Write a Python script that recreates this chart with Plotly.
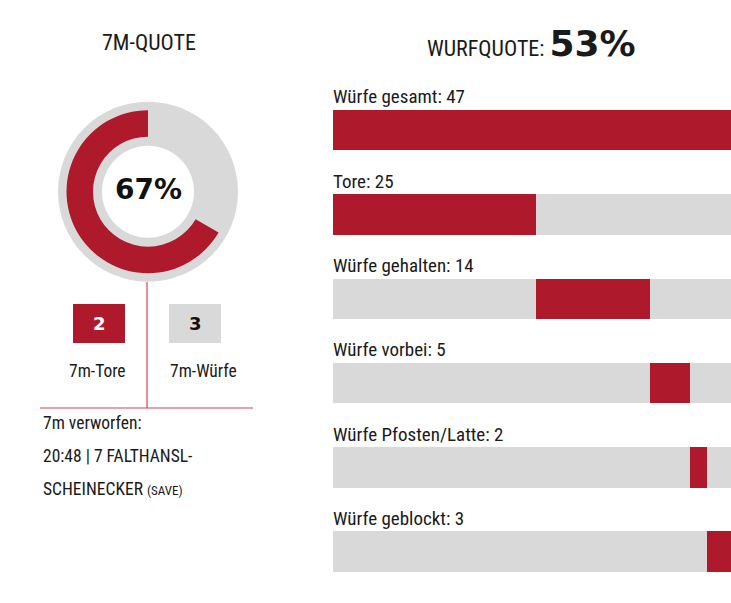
import plotly.graph_objects as go

# ---- data ----
seven_m_goals = 2
seven_m_shots = 3
seven_m_labels = ["7m-Tore", "7m-Würfe"]
shot_rate_text = "53%"
bar_labels = ["Würfe gesamt", "Tore", "Würfe gehalten", "Würfe vorbei", "Würfe Pfosten/Latte", "Würfe geblockt"]
bar_values = [47, 25, 14, 5, 2, 3]
missed_lines = ["7m verworfen:", "20:48 | 7 FALTHANSL-", "SCHEINECKER"]
missed_note = "(SAVE)"

RED = "#ae1a2c"
GREY = "#d9d9d9"
LINE = "#e0404e"
W, H = 731, 603
NARROW = "Liberation Sans Narrow, Roboto Condensed, Arial Narrow, sans-serif"
WIDE = "DejaVu Sans, Verdana, sans-serif"


def px(x):
    return x / W


def py(y):
    return 1 - y / H


fig = go.Figure()

# ---- donut ----
cx, cy = 148, 191.7
r_out, r_in = 90, 46
fig.add_trace(go.Pie(values=[1], marker=dict(colors=[GREY]), hole=r_in / r_out,
                     domain=dict(x=[px(cx - r_out), px(cx + r_out)], y=[py(cy + r_out), py(cy - r_out)]),
                     textinfo="none", hoverinfo="skip", sort=False, showlegend=False))
r2_out, r2_in = 81.5, 55
# missed part first (clockwise from 12 o'clock), then goals back up to 12 o'clock
fig.add_trace(go.Pie(values=[seven_m_shots - seven_m_goals, seven_m_goals],
                     marker=dict(colors=["rgba(0,0,0,0)", RED]), hole=r2_in / r2_out,
                     domain=dict(x=[px(cx - r2_out), px(cx + r2_out)], y=[py(cy + r2_out), py(cy - r2_out)]),
                     textinfo="none", hoverinfo="skip", sort=False, direction="clockwise",
                     rotation=0, showlegend=False))

# ---- bars ----
seg_values = bar_values[1:]
scale_max = max(bar_values[0], sum(seg_values))
bases = [0]
widths = [scale_max]
acc = 0
for v in seg_values:
    bases.append(acc)
    widths.append(v)
    acc += v
ys = list(range(len(bar_labels)))
step = 84.3
bw = 40.5 / step
fig.add_trace(go.Bar(y=ys, x=[scale_max] * len(ys), orientation="h", marker=dict(color=GREY, line=dict(width=0)),
                     width=bw, hoverinfo="skip", showlegend=False))
fig.add_trace(go.Bar(y=ys, x=widths, base=bases, orientation="h", marker=dict(color=RED, line=dict(width=0)),
                     width=bw, hoverinfo="skip", showlegend=False))

annotations = []
for i, (lab, v) in enumerate(zip(bar_labels, bar_values)):
    annotations.append(dict(x=0, y=i, xref="x", yref="y", text=f"{lab}: {v}", showarrow=False,
                            xanchor="left", yanchor="middle", yshift=33, xshift=-2,
                            font=dict(family=NARROW, size=19, color="#1a1a1a")))

# titles
annotations.append(dict(x=px(149), y=py(42), xref="paper", yref="paper", text="7M-QUOTE", showarrow=False,
                        xanchor="center", yanchor="middle",
                        font=dict(family=NARROW, size=22, color="#1a1a1a")))
annotations.append(dict(x=px(531), y=py(43), xref="paper", yref="paper",
                        text="WURFQUOTE: <span style='font-family:DejaVu Sans;font-weight:bold;font-size:36px'>"
                             + shot_rate_text + "</span>",
                        showarrow=False, xanchor="center", yanchor="middle",
                        font=dict(family=NARROW, size=22, color="#1a1a1a")))
annotations.append(dict(x=px(148), y=py(189), xref="paper", yref="paper",
                        text="<b>" + f"{round(100 * seven_m_goals / seven_m_shots)}%" + "</b>",
                        showarrow=False, xanchor="center", yanchor="middle",
                        font=dict(family=WIDE, size=28, color="#111111")))

# boxes
shapes = []
box_y0, box_y1 = 304, 343
for (x0, x1), col, val, tcol, lab, lx in [((73, 125), RED, seven_m_goals, "white", seven_m_labels[0], 97.5),
                                          ((169, 221), GREY, seven_m_shots, "#111111", seven_m_labels[1], 203)]:
    shapes.append(dict(type="rect", xref="paper", yref="paper", x0=px(x0), x1=px(x1),
                       y0=py(box_y1), y1=py(box_y0), fillcolor=col, line=dict(width=0)))
    annotations.append(dict(x=px((x0 + x1) / 2), y=py((box_y0 + box_y1) / 2), xref="paper", yref="paper",
                            text=f"<b>{val}</b>", showarrow=False, xanchor="center", yanchor="middle",
                            font=dict(family=WIDE, size=18, color=tcol)))
    annotations.append(dict(x=px(lx), y=py(371), xref="paper", yref="paper", text=lab,
                            showarrow=False, xanchor="center", yanchor="middle",
                            font=dict(family=NARROW, size=17.5, color="#1a1a1a")))

shapes.append(dict(type="line", xref="paper", yref="paper", x0=px(147), x1=px(147), y0=py(282), y1=py(408),
                   line=dict(color=LINE, width=1.2)))
shapes.append(dict(type="line", xref="paper", yref="paper", x0=px(40), x1=px(253), y0=py(408), y1=py(408),
                   line=dict(color=LINE, width=1.2)))

for text, yy in zip(missed_lines, [423, 456, 489]):
    if text == missed_lines[-1]:
        text = text + " <span style='font-size:13px'>" + missed_note + "</span>"
    annotations.append(dict(x=px(41), y=py(yy), xref="paper", yref="paper", text=text, showarrow=False,
                            xanchor="left", yanchor="middle",
                            font=dict(family=NARROW, size=17.5, color="#1a1a1a")))

top_px = 130 - step / 2
bot_px = top_px + 6 * step
fig.update_layout(
    width=W, height=H, margin=dict(l=0, r=0, t=0, b=0),
    paper_bgcolor="white", plot_bgcolor="white",
    barmode="overlay", bargap=0,
    xaxis=dict(domain=[px(333), 1], range=[0, scale_max], visible=False, fixedrange=True),
    yaxis=dict(domain=[max(0, py(bot_px)), py(top_px)], range=[5.5, -0.5], visible=False, fixedrange=True),
    annotations=annotations, shapes=shapes,
)
fig.write_html("out.html", config={"displayModeBar": False},
               post_script="document.body.style.margin='0';document.body.style.overflow='hidden';")
